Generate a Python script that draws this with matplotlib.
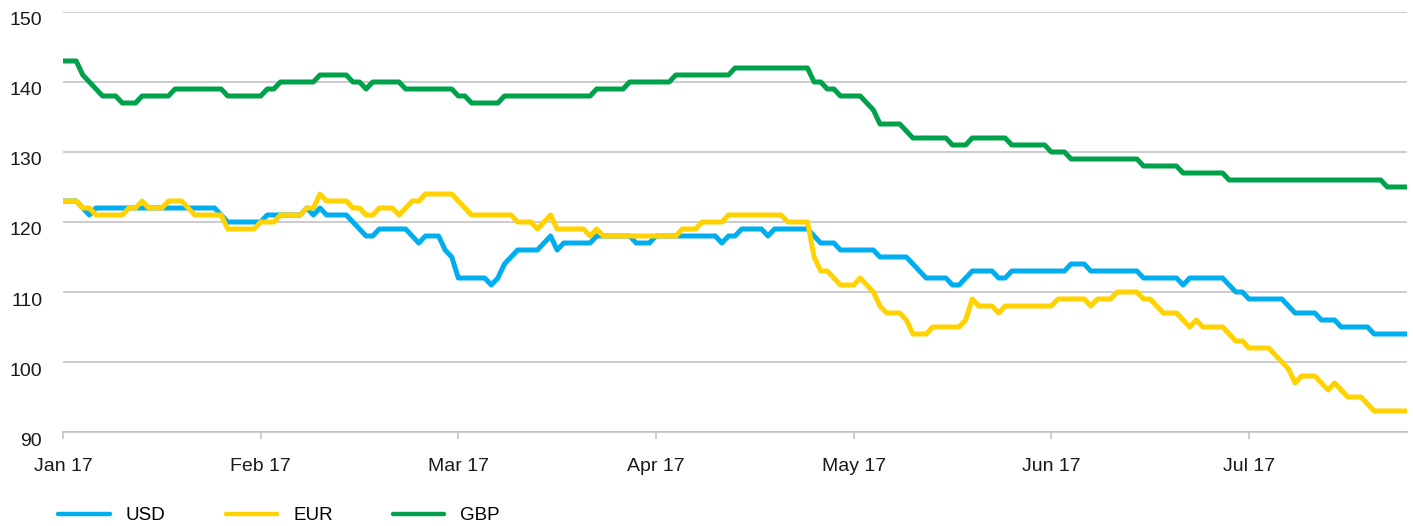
import matplotlib
matplotlib.use("Agg")
import matplotlib.pyplot as plt
import matplotlib.transforms as mtransforms

plt.rcParams['font.family'] = ['Liberation Sans', 'DejaVu Sans']

# trading-day index (30 points per month label) and index values at turning points
usd_days = [0, 2, 3, 4, 5, 23, 24, 25, 30, 31, 36, 37, 38, 39, 40, 43, 46, 47, 48, 52,
            54, 55, 57, 58, 59, 60, 64, 65, 66, 67, 69, 72, 74, 75, 76, 80, 81, 86, 87, 89,
            90, 99, 100, 101, 102, 103, 106, 107, 108, 113, 115, 117, 118, 123, 124, 128, 131, 134, 135, 136,
            138, 141, 142, 143, 144, 152, 153, 155, 156, 163, 164, 169, 170, 171, 176, 178, 179, 180, 185, 187,
            190, 191, 193, 194, 198, 199, 204]
usd_vals = [123, 123, 122, 121, 122, 122, 121, 120, 120, 121, 121, 122, 121, 122, 121, 121, 118, 118, 119, 119,
            117, 118, 118, 116, 115, 112, 112, 111, 112, 114, 116, 116, 118, 116, 117, 117, 118, 118, 117, 117,
            118, 118, 117, 118, 118, 119, 119, 118, 119, 119, 117, 117, 116, 116, 115, 115, 112, 112, 111, 111,
            113, 113, 112, 112, 113, 113, 114, 114, 113, 113, 112, 112, 111, 112, 112, 110, 110, 109, 109, 107,
            107, 106, 106, 105, 105, 104, 104]

eur_days = [0, 2, 3, 4, 5, 9, 10, 11, 12, 13, 15, 16, 18, 20, 24, 25, 29, 30, 32, 33,
            36, 37, 38, 39, 40, 43, 44, 45, 46, 47, 48, 50, 51, 53, 54, 55, 59, 62, 68, 69,
            71, 72, 74, 75, 79, 80, 81, 82, 93, 94, 96, 97, 100, 101, 109, 110, 113, 114, 115, 116,
            118, 120, 121, 123, 124, 125, 127, 128, 129, 131, 132, 136, 137, 138, 139, 141, 142, 143, 150, 151,
            155, 156, 157, 159, 160, 163, 164, 165, 167, 169, 171, 172, 173, 176, 178, 179, 180, 183, 184, 186,
            187, 188, 190, 192, 193, 195, 197, 199, 204]
eur_vals = [123, 123, 122, 122, 121, 121, 122, 122, 123, 122, 122, 123, 123, 121, 121, 119, 119, 120, 120, 121,
            121, 122, 122, 124, 123, 123, 122, 122, 121, 121, 122, 122, 121, 123, 123, 124, 124, 121, 121, 120,
            120, 119, 121, 119, 119, 118, 119, 118, 118, 119, 119, 120, 120, 121, 121, 120, 120, 115, 113, 113,
            111, 111, 112, 110, 108, 107, 107, 106, 104, 104, 105, 105, 106, 109, 108, 108, 107, 108, 108, 109,
            109, 108, 109, 109, 110, 110, 109, 109, 107, 107, 105, 106, 105, 105, 103, 103, 102, 102, 101, 99,
            97, 98, 98, 96, 97, 95, 95, 93, 93]

gbp_days = [0, 2, 3, 6, 8, 9, 11, 12, 16, 17, 24, 25, 30, 31, 32, 33, 38, 39, 43, 44,
            45, 46, 47, 51, 52, 59, 60, 61, 62, 66, 67, 80, 81, 85, 86, 92, 93, 101, 102, 113,
            114, 115, 116, 117, 118, 121, 122, 123, 124, 127, 129, 134, 135, 137, 138, 143, 144, 149, 150, 152,
            153, 163, 164, 169, 170, 176, 177, 200, 201, 204]
gbp_vals = [143, 143, 141, 138, 138, 137, 137, 138, 138, 139, 139, 138, 138, 139, 139, 140, 140, 141, 141, 140,
            140, 139, 140, 140, 139, 139, 138, 138, 137, 137, 138, 138, 139, 139, 140, 140, 141, 141, 142, 142,
            140, 140, 139, 139, 138, 138, 137, 136, 134, 134, 132, 132, 131, 131, 132, 132, 131, 131, 130, 130,
            129, 129, 128, 128, 127, 127, 126, 126, 125, 125]

month_pos = [0, 30, 60, 90, 120, 150, 180]
month_labels = ['Jan 17', 'Feb 17', 'Mar 17', 'Apr 17', 'May 17', 'Jun 17', 'Jul 17']
y_ticks = [90, 100, 110, 120, 130, 140, 150]

fig = plt.figure(figsize=(14.13, 5.26), dpi=100)
ax = fig.add_axes([0.0446, 0.1787, 0.9512, 0.7985])

lw = 3.6
ax.plot(usd_days, usd_vals, color='#00AEEF', lw=lw, label='USD', solid_joinstyle='round', solid_capstyle='round')
ax.plot(eur_days, eur_vals, color='#FFD200', lw=lw, label='EUR', solid_joinstyle='round', solid_capstyle='round')
ax.plot(gbp_days, gbp_vals, color='#00A14B', lw=lw, label='GBP', solid_joinstyle='round', solid_capstyle='round')

ax.set_xlim(0, 204)
ax.set_ylim(90, 150)
ax.set_yticks(y_ticks)
ax.set_xticks(month_pos)
ax.set_xticklabels(month_labels)

ax.grid(axis='y', color='#BFBFBF', lw=1.1)
ax.set_axisbelow(True)
for s in ['top', 'right', 'left']:
    ax.spines[s].set_visible(False)
ax.spines['bottom'].set_color('#BFBFBF')
ax.spines['bottom'].set_linewidth(1.1)

ax.tick_params(axis='x', length=5, width=1.1, color='#BFBFBF', pad=14, labelsize=14, labelcolor='#1a1a1a')
ax.tick_params(axis='y', length=0, pad=15, labelsize=14, labelcolor='#1a1a1a')
offset = mtransforms.ScaledTranslation(0, -7 / 100, fig.dpi_scale_trans)
for lab in ax.get_yticklabels():
    lab.set_transform(lab.get_transform() + offset)

leg = fig.legend(loc='lower left', bbox_to_anchor=(0.04, 0.0), ncol=3, frameon=False,
                 fontsize=13.5, handlelength=2.75, handletextpad=0.85, columnspacing=3.2,
                 borderpad=0.1, borderaxespad=0)
for h in leg.get_lines():
    h.set_linewidth(3.2)

fig.savefig('out.png', dpi=100)
